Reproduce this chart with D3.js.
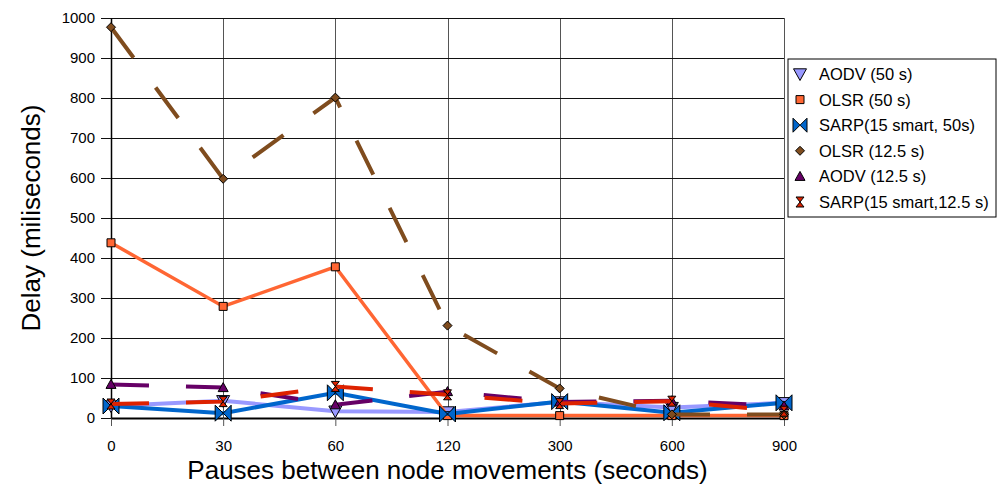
<!doctype html>
<html>
<head>
<meta charset="UTF-8">
<script src="https://d3js.org/d3.v7.min.js"></script>
<style>
body { margin: 0; background: #fff; }
text { font-family: "Liberation Sans", Arial, sans-serif; }
</style>
</head>
<body>
<script>
// categories (pause times, seconds)
var pauses = ["0", "30", "60", "120", "300", "600", "900"];
var yTicks = [0, 100, 200, 300, 400, 500, 600, 700, 800, 900, 1000];

// delay values (ms) per series
var aodv50   = [30, 43, 17, 15, 40, 26, 38];
var olsr50   = [438, 279, 378, 6, 6, 6, 6];
var sarp50   = [30, 12, 63, 10, 41, 13, 38];
var olsr125  = [977, 598, 801, 231, 74, 9, 9];
var aodv125  = [84, 76, 33, 66, 40, 43, 30];
var sarp125  = [35, 41, 79, 58, 36, 42, 17];

var seriesNames = ["AODV (50 s)", "OLSR (50 s)", "SARP(15 smart, 50s)",
                   "OLSR (12.5 s)", "AODV (12.5 s)", "SARP(15 smart,12.5 s)"];

var W = 998, H = 486;
var pLeft = 111, pRight = 784, pTop = 18, pBottom = 418;

var svg = d3.select("body").append("svg")
    .attr("width", W).attr("height", H);

var x = d3.scalePoint().domain(pauses).range([pLeft, pRight]);
var y = d3.scaleLinear().domain([0, 1000]).range([pBottom, pTop]);

// grid
svg.append("g")
    .attr("transform", "translate(0," + pBottom + ")")
    .call(d3.axisBottom(x).tickSize(-(pBottom - pTop)).tickFormat(""))
    .call(function(g) {
        g.select(".domain").remove();
        g.selectAll("line").attr("stroke", "#555").attr("shape-rendering", "crispEdges");
    });
svg.append("g")
    .attr("transform", "translate(" + pLeft + ",0)")
    .call(d3.axisLeft(y).tickValues(yTicks).tickSize(-(pRight - pLeft)).tickFormat(""))
    .call(function(g) {
        g.select(".domain").remove();
        g.selectAll("line").attr("stroke", "#111").attr("shape-rendering", "crispEdges");
    });

// axes with outward ticks
var xAxis = svg.append("g")
    .attr("transform", "translate(0," + pBottom + ")")
    .call(d3.axisBottom(x).tickSize(8).tickSizeOuter(0).tickPadding(14));
xAxis.select(".domain").attr("stroke", "#000").attr("stroke-width", 2);
xAxis.selectAll("line").attr("stroke", "#555");
xAxis.selectAll("text").attr("font-size", "15px").attr("fill", "#000");

var yAxis = svg.append("g")
    .attr("transform", "translate(" + pLeft + ",0)")
    .call(d3.axisLeft(y).tickValues(yTicks).tickFormat(d3.format("d"))
        .tickSize(10).tickSizeOuter(0).tickPadding(6));
yAxis.select(".domain").attr("stroke", "#000").attr("stroke-width", 1.5);
yAxis.selectAll("line").attr("stroke", "#111");
yAxis.selectAll("text").attr("font-size", "15px").attr("fill", "#000");

// axis titles
svg.append("text")
    .attr("text-anchor", "middle")
    .attr("transform", "translate(" + ((pLeft + pRight) / 2) + ",479)")
    .style("font-size", "26px")
    .text("Pauses between node movements (seconds)");
svg.append("text")
    .attr("text-anchor", "middle")
    .attr("transform", "translate(40," + ((pTop + pBottom) / 2) + ")rotate(-90)")
    .style("font-size", "26px")
    .text("Delay (miliseconds)");

// marker shapes
function markerPath(kind, s) {
    var h = s / 2;
    if (kind == "down") return "M" + (-h) + "," + (-h * 0.8) + "L" + h + "," + (-h * 0.8) + "L0," + (h) + "Z";
    if (kind == "up") return "M" + (-h) + "," + (h * 0.8) + "L" + h + "," + (h * 0.8) + "L0," + (-h) + "Z";
    if (kind == "square") return "M" + (-h) + "," + (-h) + "h" + s + "v" + s + "h" + (-s) + "Z";
    if (kind == "diamond") return "M0," + (-h) + "L" + h + ",0L0," + h + "L" + (-h) + ",0Z";
    if (kind == "bowtie") return "M" + (-h) + "," + (-h) + "L0,0L" + (-h) + "," + h + "Z" +
                                 "M" + h + "," + (-h) + "L0,0L" + h + "," + h + "Z";
    if (kind == "hourglass") return "M" + (-h * 0.8) + "," + (-h) + "L" + (h * 0.8) + "," + (-h) + "L0,0Z" +
                                    "M" + (-h * 0.8) + "," + h + "L" + (h * 0.8) + "," + h + "L0,0Z";
}

var series = [
    {name: seriesNames[0], values: aodv50,  color: "#9999FF", dash: null,    width: 4,   marker: "down",      size: 13},
    {name: seriesNames[1], values: olsr50,  color: "#FF6633", dash: null,    width: 3.5, marker: "square",    size: 8},
    {name: seriesNames[2], values: sarp50,  color: "#0066CC", dash: null,    width: 4,   marker: "bowtie",    size: 16},
    {name: seriesNames[3], values: olsr125, color: "#7F4C1E", dash: "38,37", width: 4,   marker: "diamond",   size: 9},
    {name: seriesNames[4], values: aodv125, color: "#660066", dash: "38,37", width: 4,   marker: "up",        size: 10},
    {name: seriesNames[5], values: sarp125, color: "#DD2200", dash: "38,37", width: 4,   marker: "hourglass", size: 10}
];

var line = d3.line()
    .x(function(d, i) { return x(pauses[i]); })
    .y(function(d) { return y(d); });

series.forEach(function(s) {
    svg.append("path")
        .attr("d", line(s.values))
        .attr("fill", "none")
        .attr("stroke", s.color)
        .attr("stroke-width", s.width)
        .attr("stroke-dasharray", s.dash);
    svg.selectAll(null).data(s.values).enter().append("path")
        .attr("transform", function(d, i) { return "translate(" + x(pauses[i]) + "," + y(d) + ")"; })
        .attr("d", markerPath(s.marker, s.size))
        .attr("fill", s.color)
        .attr("stroke", "#000")
        .attr("stroke-width", 1);
});

// legend
var lg = svg.append("g").attr("transform", "translate(788,59)");
lg.append("rect")
    .attr("width", 208).attr("height", 158)
    .attr("fill", "#fff").attr("stroke", "#000").attr("stroke-width", 1);
series.forEach(function(s, i) {
    var cy = 15 + i * 25.6;
    lg.append("path")
        .attr("transform", "translate(12," + cy + ")")
        .attr("d", markerPath(s.marker, Math.min(s.size, 14)))
        .attr("fill", s.color).attr("stroke", "#000").attr("stroke-width", 1);
    lg.append("text")
        .attr("x", 31).attr("y", cy + 6)
        .style("font-size", "16.5px")
        .text(s.name);
});
</script>
</body>
</html>
